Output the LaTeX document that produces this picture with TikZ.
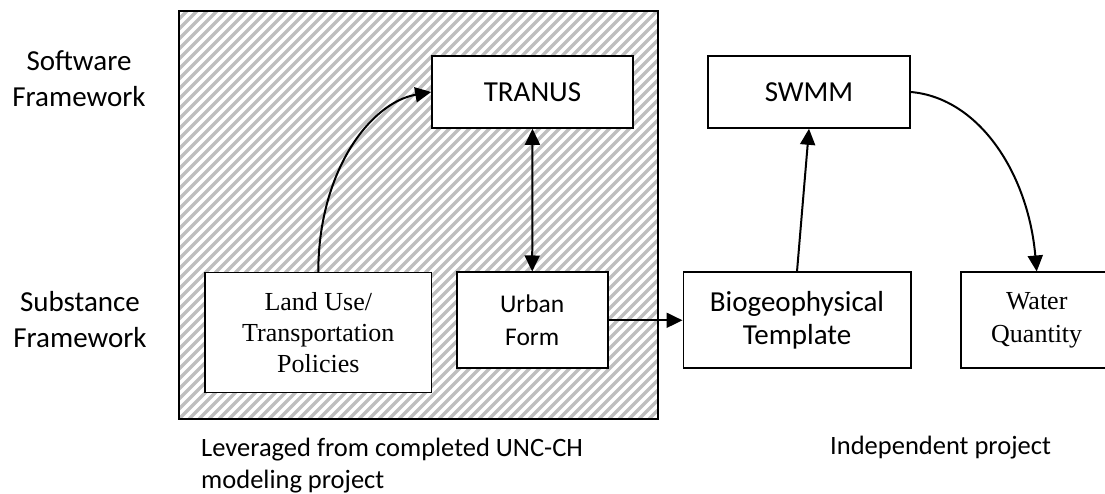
\documentclass[tikz,border=0pt]{standalone}
\usepackage{fontspec}
\setmainfont{Carlito}
\newfontfamily\tnr{Liberation Serif}
\usetikzlibrary{arrows.meta}

\begin{document}
\begin{tikzpicture}[x=1pt, y=1pt, >={Triangle[length=16pt,width=15pt]},
  box/.style={draw, fill=white, line width=1.6pt, inner sep=0pt,
    align=center, minimum height=96pt},
  region/.style={draw, line width=1.5pt, inner sep=0pt,
    minimum width=479pt, minimum height=408pt,
    path picture={\foreach \k in {0,...,95}
      \draw[hatch] ([xshift=\k*10pt-420pt]path picture bounding box.south west)
        -- ++(45:640pt);}},
  hatch/.style={gray!50, line width=3.2pt},
  link/.style={->, line width=2pt},
  rowtext/.style={align=center, font=\fontsize{29}{36}\selectfont},
  caption/.style={align=left, inner sep=0pt, font=\fontsize{26.5}{32}\selectfont}]
  \useasboundingbox (0,0) rectangle (1105,494);
  % leveraged part (hatched)
  \node[region] (lev) at (418.5,279) {};
  % row labels
  \node[rowtext] (swlab)  at (79,415) {Software\\Framework};
  \node[rowtext] (sublab) at (80,174) {Substance\\Framework};
  % software framework
  \node[box, minimum width=201pt, minimum height=72pt,
    font=\fontsize{29}{35}\selectfont] (tranus) at (532.5,402) {TRANUS};
  \node[box, minimum width=202pt, minimum height=72pt,
    font=\fontsize{29}{35}\selectfont] (swmm) at (809,402) {SWMM};
  % substance framework
  \node[box, minimum width=226.7pt, minimum height=120pt,
    font=\tnr\fontsize{26}{31}\selectfont] (lu) at (318.3,161.4)
    {Land Use/\\Transportation\\Policies};
  \node[box, minimum width=151pt, font=\fontsize{25.5}{33}\selectfont]
    (urban) at (532.2,173.7) {Urban\\Form};
  \node[box, minimum width=227.4pt, font=\fontsize{29}{32.7}\selectfont]
    (bio) at (797,173.7) {Biogeophysical\\Template};
  \node[box, minimum width=152pt, font=\tnr\fontsize{26}{32.7}\selectfont]
    (water) at (1036.7,173.7) {Water\\Quantity};
  % captions
  \node[caption, anchor=north west] (levtxt) at (201,56)
    {Leveraged from completed UNC-CH\\modeling project};
  \node[caption, anchor=base west] (indtxt) at (830,39) {Independent project};
  % links
  \draw[link] (lu.north) to[out=90, in=190, out looseness=1.2,
    in looseness=0.75] (tranus.west);
  \draw[link, <->] (tranus.south) -- (urban.north);
  \draw[link] (urban.east) -- (bio.west);
  \draw[link] (bio.north) -- (swmm.south);
  \draw[link] (swmm.east) to[out=-5, in=95, out looseness=0.8,
    in looseness=1.15] (water.north);
\end{tikzpicture}
\end{document}
